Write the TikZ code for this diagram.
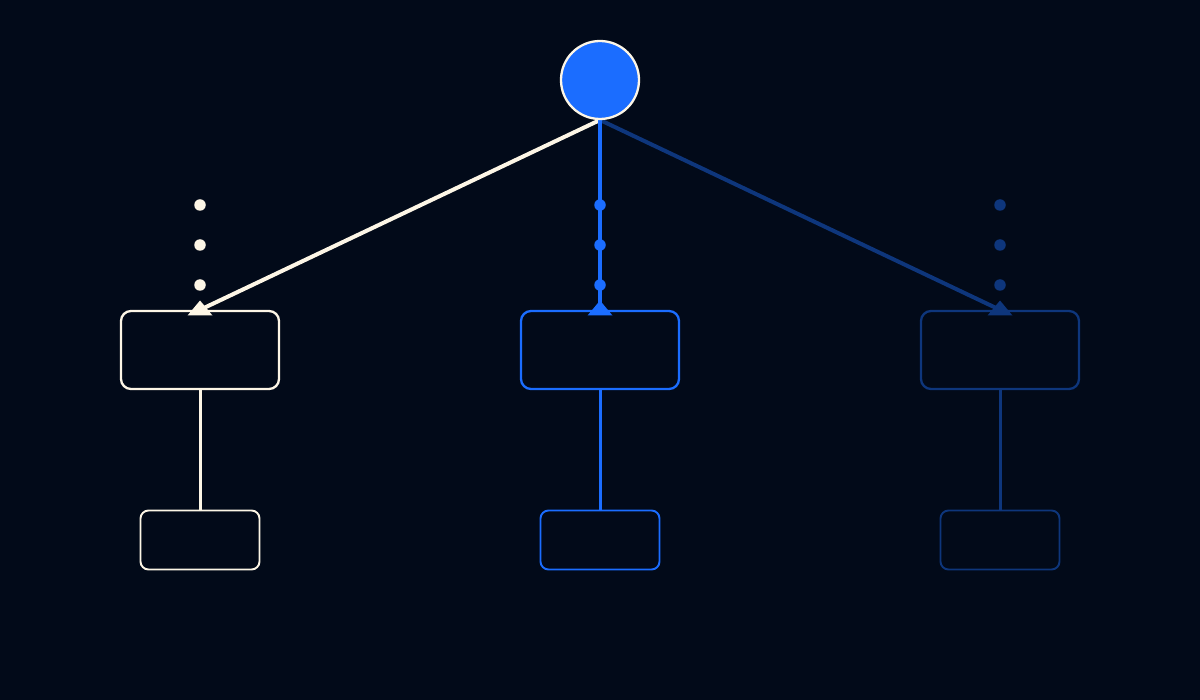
\documentclass[tikz,border=0pt]{standalone}
\usetikzlibrary{calc}
\definecolor{bg}{HTML}{020A19}
\definecolor{cream}{HTML}{FDF6E6}
\definecolor{bblue}{HTML}{1B6DFF}
\definecolor{dblue}{HTML}{0E367C}
\tikzset{
  midbox/.style={draw, rounded corners=10pt, minimum width=158pt, minimum height=78pt, line width=2.3pt, inner sep=0pt},
  lowbox/.style={draw, rounded corners=8pt, minimum width=119pt, minimum height=59pt, line width=1.9pt, inner sep=0pt},
  dotmark/.style={circle, inner sep=0pt, minimum size=11.5pt},
  edge/.style={line width=4pt},
  stem/.style={line width=3pt}
}
\begin{document}
\begin{tikzpicture}[x=1pt,y=-1pt]
\fill[bg] (0,0) rectangle (1200,700);
\useasboundingbox (0,0) rectangle (1200,700);

% boxes
\node[midbox, draw=cream] (mL) at (200,350) {};
\node[midbox, draw=bblue] (mM) at (600,350) {};
\node[midbox, draw=dblue] (mR) at (1000,350) {};
\node[lowbox, draw=cream] (lL) at (200,540) {};
\node[lowbox, draw=bblue] (lM) at (600,540) {};
\node[lowbox, draw=dblue] (lR) at (1000,540) {};

% stems
\draw[stem, cream] (mL.south) -- (lL.north);
\draw[stem, bblue] (mM.south) -- (lM.north);
\draw[stem, dblue] (mR.south) -- (lR.north);

% root
\coordinate (rootbot) at (600,120);
\draw[edge, dblue] (rootbot) -- (mR.north);
\draw[edge, cream] (rootbot) -- (mL.north);
\draw[line width=4.5pt, bblue] (rootbot) -- (mM.north);
\node[circle, fill=bblue, draw=cream, line width=2.3pt, minimum size=78pt, inner sep=0pt] (root) at (600,80) {};

% dots
\foreach \y [count=\i] in {205,245,285}{
  \node[dotmark, fill=cream] (dL\i) at (200,\y) {};
  \node[dotmark, fill=bblue] (dM\i) at (600,\y) {};
  \node[dotmark, fill=dblue] (dR\i) at (1000,\y) {};
}

% triangle markers
\fill[cream] (200,300.5) -- (187.5,315.5) -- (212.5,315.5) -- cycle;
\fill[bblue] (600,300.5) -- (587.5,315.5) -- (612.5,315.5) -- cycle;
\fill[dblue] (1000,300.5) -- (987.5,315.5) -- (1012.5,315.5) -- cycle;
\end{tikzpicture}
\end{document}
